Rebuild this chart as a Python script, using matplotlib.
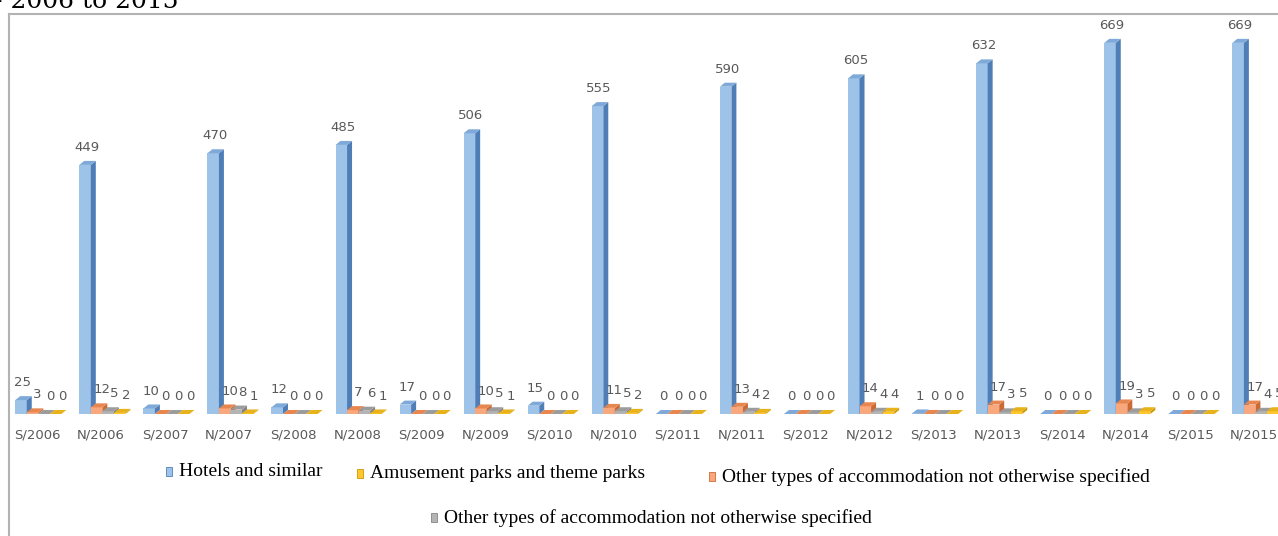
import matplotlib
matplotlib.use("Agg")
import matplotlib.pyplot as plt
from matplotlib.patches import Polygon, Rectangle
from matplotlib.lines import Line2D
import numpy as np

# ---- data ----
categories = ["S/2006", "N/2006", "S/2007", "N/2007", "S/2008", "N/2008", "S/2009",
              "N/2009", "S/2010", "N/2010", "S/2011", "N/2011", "S/2012", "N/2012",
              "S/2013", "N/2013", "S/2014", "N/2014", "S/2015", "N/2015"]
hotels = [25, 449, 10, 470, 12, 485, 17, 506, 15, 555, 0, 590, 0, 605, 1, 632, 0, 669, 0, 669]
other_orange = [3, 12, 0, 10, 0, 7, 0, 10, 0, 11, 0, 13, 0, 14, 0, 17, 0, 19, 0, 17]
other_gray = [0, 5, 0, 8, 0, 6, 0, 5, 0, 5, 0, 4, 0, 4, 0, 3, 0, 3, 0, 4]
amusement = [0, 2, 0, 1, 0, 1, 0, 1, 0, 2, 0, 2, 0, 4, 0, 5, 0, 5, 0, 5]

lbl_hotels = "Hotels and similar"
lbl_amuse = "Amusement parks and theme parks"
lbl_other = "Other types of accommodation not otherwise specified"

# (values, front, side, top) in drawing order inside a group
series = [
    (hotels, "#9dc3e8", "#4f7eb6", "#7ea9d8"),
    (other_orange, "#f9a77c", "#cc6a35", "#e8864f"),
    (other_gray, "#b4b4b4", "#858585", "#9c9c9c"),
    (amusement, "#ffc62e", "#cc9900", "#e8b21a"),
]
# value labels sit a bit to the right of the front face (perspective)
label_shift = [0.3, 1.0, 1.3, 1.3]

W, H = 1278, 536
fig = plt.figure(figsize=(W / 100, H / 100), dpi=100)
ax = fig.add_axes([0, (H - 414) / H, 1, 400 / H])
ax.set_xlim(-37 / 64.06, (W - 37) / 64.06)
ax.set_ylim(0, 721)

bw = 0.18        # bar width
dx = 0.078       # depth shift, x
dy = 7.2         # depth shift, y
start = -0.34

for i in range(len(categories)):
    for k, (vals, fc, sc, tc) in enumerate(series):
        v = vals[i]
        x0 = i + start + k * bw
        ax.add_patch(Rectangle((x0, 0), bw, v, facecolor=fc, edgecolor="none", zorder=2))
        ax.add_patch(Polygon([(x0 + bw, 0), (x0 + bw + dx, dy), (x0 + bw + dx, v + dy), (x0 + bw, v)],
                             closed=True, facecolor=sc, edgecolor="none", zorder=2))
        ax.add_patch(Polygon([(x0, v), (x0 + dx, v + dy), (x0 + bw + dx, v + dy), (x0 + bw, v)],
                             closed=True, facecolor=tc, edgecolor="none", zorder=2))
        ax.annotate(str(v), (x0 + bw / 2 + dx * label_shift[k], v + dy), xytext=(0, 5),
                    textcoords="offset points", ha="center", va="bottom",
                    fontsize=9.5, color="#595959", zorder=3, annotation_clip=False)

ax.set_xticks(range(len(categories)))
ax.set_xticklabels(categories, fontsize=9.5, color="#595959")
ax.tick_params(axis="x", length=0, pad=10.5)
ax.set_yticks([])
for s in ax.spines.values():
    s.set_visible(False)
ax.patch.set_alpha(0)

# chart frame
fig.add_artist(Line2D([9 / W, 9 / W], [0, 1 - 14 / H], color="#b3b3b3", lw=1.5))
fig.add_artist(Line2D([9 / W, 1], [1 - 14 / H, 1 - 14 / H], color="#b3b3b3", lw=1.5))

# title, cut at the top edge
fig.text(-6 / W, 1 - 7.5 / H, "- 2006 to 2015", family="DejaVu Serif", fontsize=18,
         ha="left", va="baseline", color="black")

# legend: swatch + label, laid out in two rows
legend_items = [
    (lbl_hotels, "#9dc3e8", "#4f7eb6", 166, 472),
    (lbl_amuse, "#ffc62e", "#cc9900", 357, 474),
    (lbl_other, "#f9a77c", "#cc6a35", 709, 477),
    (lbl_other, "#b4b4b4", "#858585", 431, 518),
]
for text, fc, ec, px, py in legend_items:
    fig.add_artist(Rectangle((px / W, 1 - (py + 4) / H), 6 / W, 9 / H, facecolor=fc,
                             edgecolor=ec, lw=0.6, transform=fig.transFigure))
    fig.text((px + 13) / W, 1 - py / H, text, family="Liberation Serif", fontsize=14,
             ha="left", va="center", color="black")

fig.savefig("out.png", dpi=100)
